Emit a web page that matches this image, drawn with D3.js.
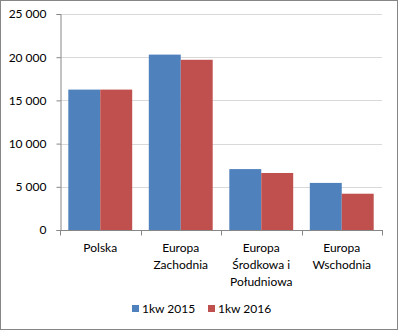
<!DOCTYPE html>
<html>
<head>
<meta charset="utf-8">
<script src="https://cdn.jsdelivr.net/npm/d3@7/dist/d3.min.js"></script>
<style>
  html, body { margin: 0; padding: 0; background: #fff; }
  svg { display: block; }
  text { font-family: Lato, "Open Sans", sans-serif; fill: #000; }
</style>
</head>
<body>
<svg id="chart" width="398" height="330"></svg>
<script>
// Regional values, first quarter 2015 vs first quarter 2016
const categories = [
  ["Polska"],
  ["Europa", "Zachodnia"],
  ["Europa", "Środkowa i", "Południowa"],
  ["Europa", "Wschodnia"]
];
const seriesNames = ["1kw 2015", "1kw 2016"];
const values2015 = [16250, 20300, 7050, 5450];
const values2016 = [16250, 19700, 6600, 4200];
const yTicks = [0, 5000, 10000, 15000, 20000, 25000];
const colors = ["#4f81bd", "#c0504d"];

const svg = d3.select("#chart");
const W = 398, H = 330;

// chart frame
svg.append("rect")
  .attr("x", 0.5).attr("y", 0.5)
  .attr("width", W - 1).attr("height", H - 1)
  .attr("fill", "#fff").attr("stroke", "#868686").attr("stroke-width", 1);

const plot = { left: 60, right: 382, top: 14, bottom: 230 };

const x0 = d3.scaleBand()
  .domain(d3.range(categories.length))
  .range([plot.left, plot.right])
  .paddingInner(0).paddingOuter(0);

const x1 = d3.scaleBand()
  .domain(d3.range(seriesNames.length))
  .range([0, x0.bandwidth()])
  .paddingOuter(0.26).paddingInner(0);

const y = d3.scaleLinear().domain([0, 25000]).range([plot.bottom, plot.top]);

const fmt = v => d3.format(",")(v).replace(/,/g, " ");

// horizontal gridlines
svg.append("g")
  .selectAll("line")
  .data(yTicks.filter(t => t > 0))
  .join("line")
  .attr("x1", plot.left).attr("x2", plot.right)
  .attr("y1", d => Math.round(y(d)) + 0.5)
  .attr("y2", d => Math.round(y(d)) + 0.5)
  .attr("stroke", "#d9d9d9").attr("stroke-width", 1);

// bars
const rows = categories.map((c, i) => [values2015[i], values2016[i]]);
const groups = svg.append("g")
  .selectAll("g")
  .data(rows)
  .join("g")
  .attr("transform", (d, i) => `translate(${x0(i)},0)`);

groups.selectAll("rect")
  .data(d => d.map((v, s) => ({ v, s })))
  .join("rect")
  .attr("x", d => x1(d.s))
  .attr("width", x1.bandwidth())
  .attr("y", d => y(d.v))
  .attr("height", d => y(0) - y(d.v))
  .attr("fill", d => colors[d.s]);

// y axis
const yAxis = svg.append("g")
  .attr("transform", `translate(${plot.left + 0.5},0)`)
  .call(d3.axisLeft(y).tickValues(yTicks).tickFormat(fmt).tickSize(4).tickPadding(10));
yAxis.select(".domain").attr("stroke", "#868686");
yAxis.selectAll(".tick line").attr("stroke", "#868686");
yAxis.selectAll(".tick text")
  .style("font-family", "Lato, sans-serif").style("font-size", "12px").attr("fill", "#000");

// x axis with ticks on category boundaries
const xAxisG = svg.append("g")
  .attr("transform", `translate(0,${plot.bottom + 0.5})`);
xAxisG.append("line")
  .attr("x1", plot.left).attr("x2", plot.right + 1)
  .attr("stroke", "#868686");
const bounds = d3.range(categories.length + 1).map(i =>
  i < categories.length ? x0(i) : x0(i - 1) + x0.bandwidth());
xAxisG.selectAll("line.bt")
  .data(bounds)
  .join("line")
  .attr("class", "bt")
  .attr("x1", d => Math.round(d) + 0.5).attr("x2", d => Math.round(d) + 0.5)
  .attr("y1", 0).attr("y2", 5)
  .attr("stroke", "#868686");

// category labels
const lab = svg.append("g")
  .selectAll("text")
  .data(categories)
  .join("text")
  .attr("text-anchor", "middle")
  .attr("x", (d, i) => x0(i) + x0.bandwidth() / 2)
  .attr("y", 252)
  .style("font-size", "12px");
lab.selectAll("tspan")
  .data(d => d)
  .join("tspan")
  .attr("x", function () { return d3.select(this.parentNode).attr("x"); })
  .attr("dy", (d, i) => i === 0 ? 0 : 17)
  .text(d => d);

// legend
const legend = svg.append("g");
const legendX = [132, 208];
seriesNames.forEach((name, i) => {
  legend.append("rect")
    .attr("x", legendX[i]).attr("y", 305)
    .attr("width", 7).attr("height", 7)
    .attr("fill", colors[i]);
  legend.append("text")
    .attr("x", legendX[i] + 10).attr("y", 313)
    .style("font-size", "12px")
    .text(name);
});
</script>
</body>
</html>
